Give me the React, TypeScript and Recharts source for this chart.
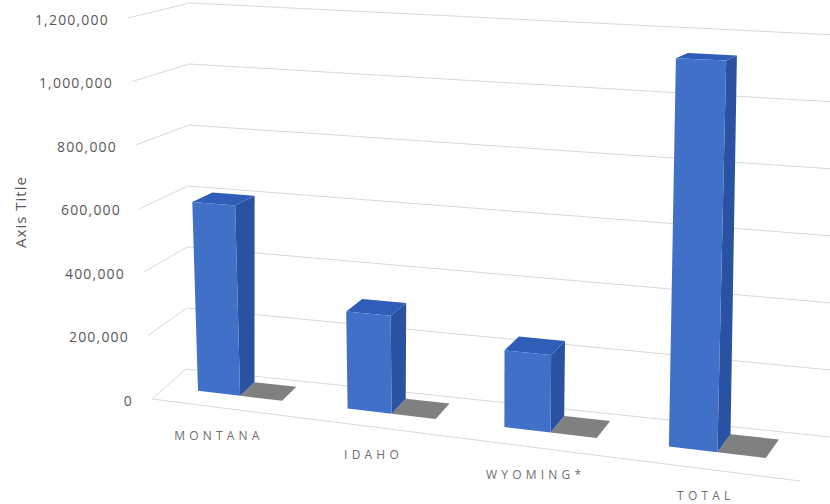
import React from "react"
import { BarChart, Bar, XAxis, YAxis, CartesianGrid } from "recharts"

const STATES = ["MONTANA", "IDAHO", "WYOMING*", "TOTAL"]
const VISITORS = [600000, 300000, 230000, 1130000]
const Y_MAX = 1200000
const Y_TICKS = [0, 200000, 400000, 600000, 800000, 1000000, 1200000]

const data = STATES.map((name, i) => ({ name, value: VISITORS[i] }))

// flat plot box recharts lays out (margin.left + yaxis width, etc)
const PLOT = { left: 120, top: 20, width: 700, height: 430 }

// screen corners of the 3d box: l/r = first/last category edge, 0/1 = zero/max value
const FRONT = { l0: [152, 399], r0: [800, 481], l1: [128, 18], r1: [818, 44] }
const BACK = { l0: [186, 369], r0: [830, 437], l1: [190, 3], r1: [836, 35] }
const D_FRONT = 0.4
const D_BACK = 0.83

const lerp = (a: number[], b: number[], k: number) => [a[0] + (b[0] - a[0]) * k, a[1] + (b[1] - a[1]) * k]

function bil(c: typeof FRONT, u: number, t: number) {
  return lerp(lerp(c.l0, c.r0, u), lerp(c.l1, c.r1, u), t)
}

function proj(u: number, t: number, d: number) {
  return lerp(bil(FRONT, u, t), bil(BACK, u, t), d)
}

// slight foreshortening along the category axis
function pu(u: number) {
  const a = 1.1
  return -0.0299 + 0.9788 * (u / (a + (1 - a) * u))
}

const pts = (list: number[][]) => list.map((p) => `${p[0].toFixed(1)},${p[1].toFixed(1)}`).join(" ")

const flatT = (y: number) => (PLOT.top + PLOT.height - y) / PLOT.height

function GridLine(props: any) {
  const t = flatT(props.y1)
  const path = [proj(0, t, 0), proj(0, t, 1), proj(1, t, 1)]
  return (
    <g key={props.key}>
      <polyline points={pts(path)} fill="none" stroke="#d9d9d9" strokeWidth={1} />
      {Math.abs(t) < 0.001 && (
        <polyline points={pts([proj(0, 0, 0), proj(1, 0, 0)])} fill="none" stroke="#d9d9d9" strokeWidth={1} />
      )}
    </g>
  )
}

function Column3D(props: any) {
  const { x, width, height } = props
  const u1 = pu((x - PLOT.left) / PLOT.width)
  const u2 = pu((x + width - PLOT.left) / PLOT.width)
  const t = height / PLOT.height
  const u3 = u2 + (u2 - u1)
  const shadow = [proj(u2, 0, D_FRONT), proj(u3, 0, D_FRONT), proj(u3, 0, D_BACK), proj(u2, 0, D_BACK)]
  const side = [proj(u2, 0, D_FRONT), proj(u2, 0, D_BACK), proj(u2, t, D_BACK), proj(u2, t, D_FRONT)]
  const top = [proj(u1, t, D_FRONT), proj(u2, t, D_FRONT), proj(u2, t, D_BACK), proj(u1, t, D_BACK)]
  const front = [proj(u1, 0, D_FRONT), proj(u2, 0, D_FRONT), proj(u2, t, D_FRONT), proj(u1, t, D_FRONT)]
  return (
    <g>
      <polygon points={pts(shadow)} fill="#808080" />
      <polygon points={pts(side)} fill="#2a52a2" />
      <polygon points={pts(top)} fill="#2f5db8" />
      <polygon points={pts(front)} fill="#4170c9" />
    </g>
  )
}

function ValueTick(props: any) {
  const t = flatT(props.y)
  const p = proj(0, t, 0)
  return (
    <text
      x={p[0] - 19}
      y={p[1] + 1}
      textAnchor="end"
      dominantBaseline="central"
      fontFamily="'Open Sans', sans-serif"
      fontSize={14}
      letterSpacing={1.2}
      fill="#595959"
    >
      {Number(props.payload.value).toLocaleString("en-US")}
    </text>
  )
}

function StateTick(props: any) {
  const u = pu((props.x - PLOT.left) / PLOT.width)
  const p = proj(u, 0, 0)
  return (
    <text
      x={p[0] + 12 + 16 * u}
      y={p[1] + 30}
      textAnchor="middle"
      dominantBaseline="central"
      fontFamily="'Open Sans', sans-serif"
      fontSize={12}
      letterSpacing={4.2}
      fill="#6e6e6e"
    >
      {props.payload.value}
    </text>
  )
}

function AxisTitle() {
  return (
    <text
      x={20}
      y={212}
      transform="rotate(-90 20 212)"
      textAnchor="middle"
      dominantBaseline="central"
      fontFamily="'Open Sans', sans-serif"
      fontSize={15}
      letterSpacing={1}
      fill="#595959"
    >
      Axis Title
    </text>
  )
}

export default function App() {
  return (
    <div style={{ position: "absolute", left: 0, top: 0, background: "#fff" }}>
      <BarChart
        width={830}
        height={504}
        data={data}
        margin={{ top: 20, right: 10, bottom: 24, left: 60 }}
        barCategoryGap="35.7%"
      >
        <CartesianGrid vertical={false} horizontal={(p: any) => <GridLine {...p} />} />
        <XAxis dataKey="name" axisLine={false} tickLine={false} interval={0} tick={<StateTick />} />
        <YAxis
          domain={[0, Y_MAX]}
          ticks={Y_TICKS}
          width={60}
          axisLine={false}
          tickLine={false}
          tick={<ValueTick />}
          label={<AxisTitle />}
        />
        <Bar dataKey="value" isAnimationActive={false} shape={(p: any) => <Column3D {...p} />} />
      </BarChart>
    </div>
  )
}
